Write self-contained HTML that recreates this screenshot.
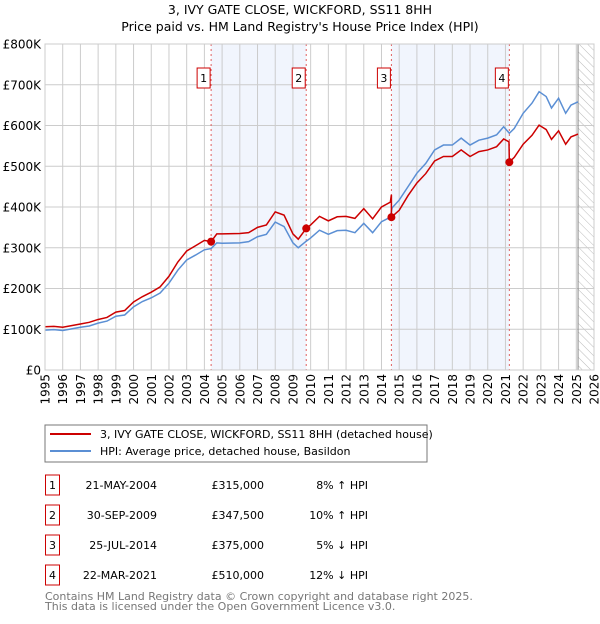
<!DOCTYPE html>
<html><head><meta charset="utf-8"><style>
body{margin:0;background:#fff;font-family:"DejaVu Sans","Liberation Sans",sans-serif;}
svg text{font-family:"DejaVu Sans","Liberation Sans",sans-serif;}
</style></head><body>
<svg id="c" width="600" height="620" xmlns="http://www.w3.org/2000/svg">
<text x="300" y="14" text-anchor="middle" font-size="12.5">3, IVY GATE CLOSE, WICKFORD, SS11 8HH</text>
<text x="300" y="31" text-anchor="middle" font-size="12.5">Price paid vs. HM Land Registry's House Price Index (HPI)</text>
<g id="plot"></g>
<rect x="45" y="425" width="382" height="37" fill="#fff" stroke="#777"/>
<line x1="50" y1="434" x2="91" y2="434" stroke="#cc0000" stroke-width="2"/>
<text x="100" y="438" font-size="11">3, IVY GATE CLOSE, WICKFORD, SS11 8HH (detached house)</text>
<line x1="50" y1="451" x2="91" y2="451" stroke="#5b8fd4" stroke-width="2"/>
<text x="100" y="455" font-size="11">HPI: Average price, detached house, Basildon</text>
<g id="table" font-size="11"></g>
<text x="45" y="600" font-size="11" fill="#777">Contains HM Land Registry data © Crown copyright and database right 2025.</text>
<text x="45" y="610" font-size="11" fill="#777">This data is licensed under the Open Government Licence v3.0.</text>
</svg>
<script>
const yTicks=[0,100000,200000,300000,400000,500000,600000,700000,800000];
const yTickLabels=["£0","£100K","£200K","£300K","£400K","£500K","£600K","£700K","£800K"];
const xYears=[1995,1996,1997,1998,1999,2000,2001,2002,2003,2004,2005,2006,2007,2008,2009,2010,2011,2012,2013,2014,2015,2016,2017,2018,2019,2020,2021,2022,2023,2024,2025,2026];
const hpiT=[1995,1995.5,1996,1996.5,1997,1997.5,1998,1998.5,1999,1999.5,2000,2000.5,2001,2001.5,2002,2002.5,2003,2003.5,2004,2004.38,2004.7,2005,2006,2006.5,2007,2007.5,2008,2008.5,2009,2009.3,2009.75,2010,2010.5,2011,2011.5,2012,2012.5,2013,2013.5,2014,2014.5,2014.6,2015,2015.5,2016,2016.5,2017,2017.5,2018,2018.5,2019,2019.5,2020,2020.5,2020.9,2021.22,2021.5,2022,2022.5,2022.9,2023.3,2023.6,2024,2024.4,2024.7,2025.1];
const hpiV=[98,99,97,101,105,108,115,120,132,135,155,168,177,189,213,245,270,282,295,298,312,311,312,315,327,333,363,352,312,300,316,324,343,333,342,343,337,360,337,364,375,398,417,450,483,507,540,552,552,569,552,564,569,577,597,581,593,630,655,683,671,643,667,630,650,658];
const paidT=[1995,1995.5,1996,1996.5,1997,1997.5,1998,1998.5,1999,1999.5,2000,2000.5,2001,2001.5,2002,2002.5,2003,2003.5,2004,2004.38,2004.7,2005,2006,2006.5,2007,2007.5,2008,2008.5,2009,2009.3,2009.75,2010,2010.5,2011,2011.5,2012,2012.5,2013,2013.5,2014,2014.5,2014.56,2014.56,2015,2015.5,2016,2016.5,2017,2017.5,2018,2018.5,2019,2019.5,2020,2020.5,2020.9,2021.2,2021.22,2021.5,2022,2022.5,2022.9,2023.3,2023.6,2024,2024.4,2024.7,2025.1];
const paidV=[106,107,105,109,113,117,124,129,142,146,167,180,191,204,230,265,292,305,318,315,334,334,335,337,350,356,388,380,334,321,347.5,356,377,366,376,377,372,396,371,400,412,430,375,392,428,459,482,513,524,524,540,524,536,540,548,567,560,510,522,554,576,601,590,566,587,554,572,579];
const salesT=[2004.38,2009.75,2014.56,2021.22];
const salesV=[315,347.5,375,510];
const salesLbl=["1","2","3","4"];
const salesDate=["21-MAY-2004","30-SEP-2009","25-JUL-2014","22-MAR-2021"];
const salesPrice=["£315,000","£347,500","£375,000","£510,000"];
const salesDiff=["8% ↑ HPI","10% ↑ HPI","5% ↓ HPI","12% ↓ HPI"];
const hatchStart=2025.1;

const X0=45,X1=594,Y0=370,Y1=44;
const xs=t=>X0+(t-1995)/(2026-1995)*(X1-X0);
const ys=v=>Y0-v/800000*(Y0-Y1);
const NS="http://www.w3.org/2000/svg";
const plot=document.getElementById('plot');
function mk(tag,at,parent){const e=document.createElementNS(NS,tag);for(const k in at)e.setAttribute(k,at[k]);(parent||plot).appendChild(e);return e;}
mk('rect',{x:X0,y:Y1,width:X1-X0,height:Y0-Y1,fill:'#fff'});
for(let i=0;i<4;i+=2){
 const r=mk('rect',{x:xs(salesT[i]),y:Y1,width:xs(salesT[i+1])-xs(salesT[i]),height:Y0-Y1,fill:'#eef3fc',opacity:0.8});
 
 
}
const defs=mk('defs',{});
const pat=mk('pattern',{id:'h',width:6,height:6,patternUnits:'userSpaceOnUse',patternTransform:'rotate(-45)'},defs);
mk('line',{x1:0,y1:0,x2:0,y2:6,stroke:'#bbb','stroke-width':1},pat);
const hr=mk('rect',{x:xs(hatchStart),y:Y1,width:X1-xs(hatchStart),height:Y0-Y1,fill:'url(#h)'});


yTicks.forEach((v,i)=>{
 const l=mk('line',{x1:X0,x2:X1,y1:ys(v),y2:ys(v),stroke:'#ccc','stroke-width':1});
 
 
 const t=mk('text',{x:41,y:ys(v)+4.5,'text-anchor':'end','font-size':12});
 t.textContent=yTickLabels[i];
 
 
});
xYears.forEach(y=>{
 const l=mk('line',{x1:xs(y),x2:xs(y),y1:Y1,y2:Y0,stroke:'#ccc','stroke-width':1});
 
 
 const t=mk('text',{x:0,y:0,'text-anchor':'end','font-size':12,transform:`translate(${xs(y)+4.5},374) rotate(-90)`});
 t.textContent=y;
 
 
});
const vl=mk('line',{x1:xs(hatchStart),x2:xs(hatchStart),y1:Y1,y2:Y0,stroke:'#888','stroke-width':1});


salesT.forEach((t,i)=>{
 const l=mk('line',{x1:xs(t),x2:xs(t),y1:Y1,y2:Y0,stroke:'#e06060','stroke-width':1,'stroke-dasharray':'2,3'});
 
 
});
const hp=mk('polyline',{points:hpiT.map((t,i)=>xs(t)+','+ys(hpiV[i]*1000)).join(' '),fill:'none',stroke:'#5b8fd4','stroke-width':1.5});


const pp=mk('polyline',{points:paidT.map((t,i)=>xs(t)+','+ys(paidV[i]*1000)).join(' '),fill:'none',stroke:'#cc0000','stroke-width':1.5});


salesT.forEach((t,i)=>{
 const c=mk('circle',{cx:xs(t),cy:ys(salesV[i]*1000),r:4,fill:'#cc0000'});
 
 
 const g=mk('g',{});
 
 
 mk('rect',{x:xs(t)-14,y:68,width:13,height:20,fill:'#fff',stroke:'#cc0000'},g);
 const tx=mk('text',{x:xs(t)-7.5,y:82,'text-anchor':'middle','font-size':11},g);
 tx.textContent=salesLbl[i];
});
const table=document.getElementById('table');
salesT.forEach((t,i)=>{
 const yc=483+i*30;
 const g=mk('g',{},table);
 
 
 mk('rect',{x:45.5,y:yc-8,width:14,height:20,fill:'#fff',stroke:'#cc0000'},g);
 const a=mk('text',{x:52.5,y:yc+6,'text-anchor':'middle'},g);a.textContent=salesLbl[i];
 const b=mk('text',{x:157,y:yc+6,'text-anchor':'end'},g);b.textContent=salesDate[i];
 const c=mk('text',{x:264,y:yc+6,'text-anchor':'end'},g);c.textContent=salesPrice[i];
 const d=mk('text',{x:368,y:yc+6,'text-anchor':'end'},g);d.textContent=salesDiff[i];
});
mk('rect',{x:X0,y:Y1,width:X1-X0,height:Y0-Y1,fill:'none',stroke:'#ccc'});
</script>
</body></html>
